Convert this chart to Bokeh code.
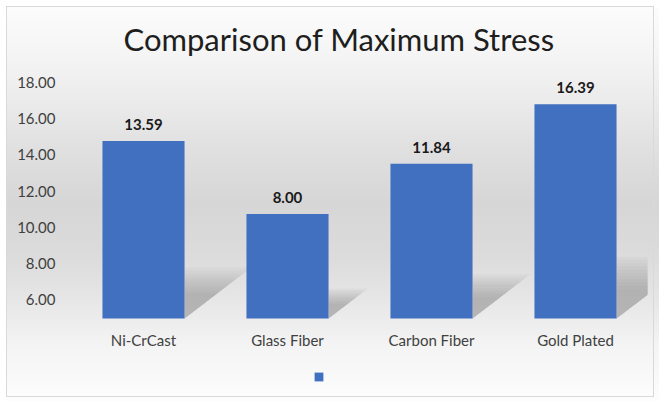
from bokeh.plotting import figure
from bokeh.models import (ColumnDataSource, Range1d, FactorRange, LinearAxis,
                          CategoricalAxis, FixedTicker, LabelSet, Legend,
                          LegendItem, Title, NumeralTickFormatter)
from bokeh.core.properties import value
from bokeh.embed import file_html
from bokeh.resources import INLINE

# Chart data
materials = ["Ni-CrCast", "Glass Fiber", "Carbon Fiber", "Gold Plated"]
max_stress = [13.59, 8.00, 11.84, 16.39]
stress_ticks = [6, 8, 10, 12, 14, 16, 18]

FONT = "Lato"
BAR_COLOR = "#4170c0"
TEXT_COLOR = "#404040"

# Bars are measured from zero; the printed scale is a separate axis range.
# The frame reaches down past the category labels so the key fits inside.
Y_START, Y_END = -5.891, 19.74
AXIS_START, AXIS_END = 0.691, 19.217

p = figure(
    width=660, height=403,
    x_range=FactorRange(*materials, range_padding=0, factor_padding=0),
    y_range=Range1d(Y_START, Y_END),
    y_axis_location=None, x_axis_location=None,
    output_backend="svg", toolbar_location=None,
    min_border_left=71, min_border_right=13,
    min_border_top=60, min_border_bottom=8,
    background_fill_color=None, border_fill_color=None,
    outline_line_color=None,
)
# Chart-area panel: grey band gradient inside a thin light border
p.styles = {
    "background": ("linear-gradient(to bottom, #fcfcfc 0%, #f4f4f4 13%, "
                   "#ebebeb 24%, #e0e0e0 36%, #d6d6d6 50%, #dcdcdc 64%, "
                   "#e6e6e6 74%, #f4f4f4 86%, #fdfdfd 100%) "
                   "7px 7px / 652px 394px no-repeat, #ffffff"),
    "outline": "1px solid #d9d9d9",
    "outline-offset": "-7px",
}

p.extra_y_ranges = {"stress": Range1d(AXIS_START, AXIS_END)}

# Soft floor shadows cast to the right of each bar (synthetic x: slot i
# spans i..i+1 on the factor range)
half_w = 0.57 / 2
for i, v in enumerate(max_stress):
    xr = i + 0.5 + half_w
    dx = 0.3 * v * 13.07 / 144.0
    dy = 0.23 * v
    layers = 11
    xs, ys = [], []
    for k in range(layers):
        s = 1.25 - k * 0.065
        xs.append([xr, xr + dx * s, xr])
        ys.append([0, dy * s, dy * s])
    p.patches(xs, ys, fill_color="#7a7a7a", fill_alpha=0.055,
              line_color=None)

src = ColumnDataSource(dict(
    material=materials,
    stress=max_stress,
    label=[f"{v:.2f}" for v in max_stress],
))

bars = p.vbar(x="material", top="stress", bottom=0, width=0.57, source=src,
              fill_color=BAR_COLOR, line_color=None)

p.add_layout(LabelSet(x="material", y="stress", text="label", source=src,
                      text_align="center", text_baseline="alphabetic",
                      y_offset=11, text_font=value(FONT),
                      text_font_size="15px", text_font_style="bold",
                      text_color="#1a1a1a"))

# Category axis sits on the bar baseline
xaxis = CategoricalAxis(fixed_location=0,
                        axis_line_color=None, major_tick_line_color=None,
                        minor_tick_line_color=None, major_tick_out=0,
                        minor_tick_out=0, major_label_standoff=12,
                        major_label_text_font=FONT,
                        major_label_text_font_size="15px",
                        major_label_text_color=TEXT_COLOR)
p.add_layout(xaxis, "below")

yaxis = LinearAxis(y_range_name="stress",
                   ticker=FixedTicker(ticks=stress_ticks),
                   formatter=NumeralTickFormatter(format="0.00"),
                   axis_line_color=None, major_tick_line_color=None,
                   minor_tick_line_color=None, major_tick_out=0,
                   minor_tick_out=0, major_label_standoff=16,
                   major_label_text_font=FONT,
                   major_label_text_font_size="15px",
                   major_label_text_color=TEXT_COLOR)
p.add_layout(yaxis, "left")

p.xgrid.grid_line_color = None
p.ygrid.grid_line_color = None

p.title = Title(text="Comparison of Maximum Stress", align="left",
                offset=52, standoff=5, text_font=FONT,
                text_font_size="31px", text_font_style="normal",
                text_color="#1e1e1e")

# Series key: a lone swatch under the category labels
legend = Legend(items=[LegendItem(label=" ", renderers=[bars])],
                location=(242, 13), orientation="horizontal",
                glyph_width=11, glyph_height=11, label_standoff=0,
                label_width=0, label_height=11,
                padding=0, margin=0, border_line_color=None,
                background_fill_alpha=0, label_text_font_size="1px")
p.add_layout(legend)

open("out.html", "w").write(file_html(p, INLINE))
